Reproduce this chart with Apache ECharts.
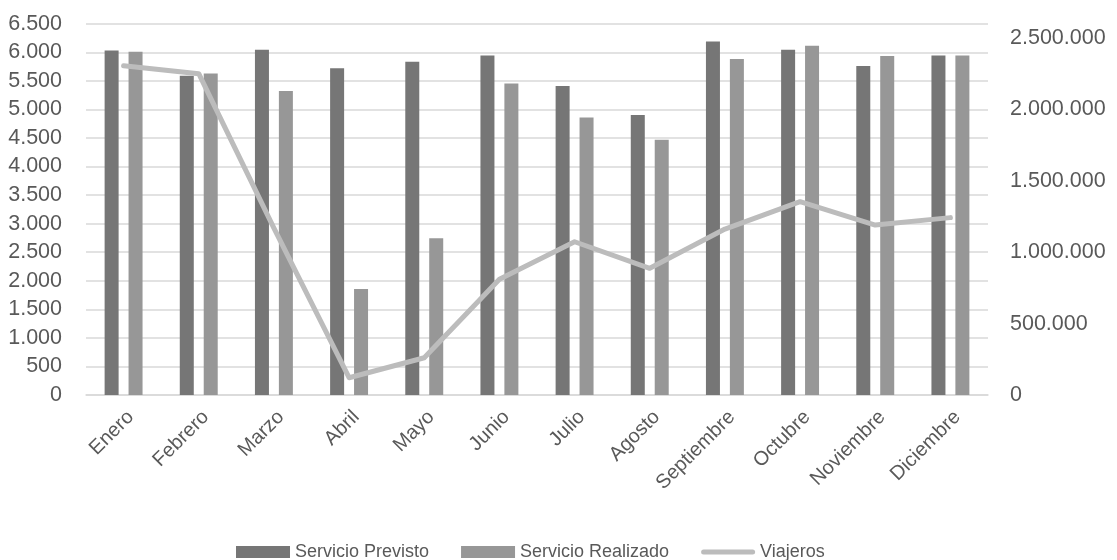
<!DOCTYPE html>
<html>
<head>
<meta charset="utf-8">
<script src="https://cdn.jsdelivr.net/npm/echarts@6/dist/echarts.min.js"></script>
<style>
  html, body { margin: 0; padding: 0; background: #ffffff; }
  #chart { width: 1117px; height: 560px; }
</style>
</head>
<body>
<div id="chart"></div>
<script>
// Monthly service figures and passenger totals
const meses = ['Enero', 'Febrero', 'Marzo', 'Abril', 'Mayo', 'Junio', 'Julio', 'Agosto', 'Septiembre', 'Octubre', 'Noviembre', 'Diciembre'];
const servicioPrevisto = [6030, 5590, 6045, 5720, 5835, 5945, 5410, 4900, 6190, 6045, 5760, 5945];
const servicioRealizado = [6010, 5630, 5320, 1855, 2745, 5455, 4860, 4470, 5880, 6115, 5935, 5945];
const viajeros = [2305000, 2250000, 1168000, 121000, 261000, 810000, 1073000, 887000, 1162000, 1354000, 1190000, 1242000];

// Spanish thousands separator
function miles(v) {
  return String(Math.round(v)).replace(/\B(?=(\d{3})+(?!\d))/g, '.');
}

const FONT = '"Liberation Sans", Arial, sans-serif';
const TEXT = '#595959';
const GRID = '#d9d9d9';
const LINE = '#bcbcbc';

const chart = echarts.init(document.getElementById('chart'), null, { renderer: 'canvas' });
chart.setOption({
  animation: false,
  backgroundColor: '#ffffff',
  textStyle: { fontFamily: FONT },
  grid: { left: 86, right: 129, top: 23.7, bottom: 165, containLabel: false },
  legend: {
    top: 538,
    left: 231,
    itemWidth: 54,
    itemHeight: 12,
    itemGap: 32,
    textStyle: { fontFamily: FONT, fontSize: 18, color: TEXT },
    data: [
      { name: 'Servicio Previsto', icon: 'rect' },
      { name: 'Servicio Realizado', icon: 'rect' },
      { name: 'Viajeros', icon: 'path://M2.5,0L51.5,0Q54,0 54,2.5Q54,5 51.5,5L2.5,5Q0,5 0,2.5Q0,0 2.5,0Z' }
    ]
  },
  xAxis: {
    type: 'category',
    data: meses,
    axisTick: { show: false },
    axisLine: { lineStyle: { color: GRID, width: 1.5 } },
    axisLabel: {
      rotate: 45,
      margin: 12,
      align: 'right',
      verticalAlign: 'top',
      fontFamily: FONT,
      fontSize: 20,
      color: TEXT,
      interval: 0
    }
  },
  yAxis: [
    {
      type: 'value',
      min: 0,
      max: 6500,
      interval: 500,
      axisLine: { show: false },
      axisTick: { show: false },
      splitLine: { lineStyle: { color: GRID, width: 1.5 } },
      axisLabel: {
        margin: 24,
        fontFamily: FONT,
        fontSize: 21.5,
        color: TEXT,
        formatter: miles
      }
    },
    {
      type: 'value',
      min: 0,
      max: 2600000,
      interval: 500000,
      position: 'right',
      axisLine: { show: false },
      axisTick: { show: false },
      splitLine: { show: false },
      axisLabel: {
        margin: 22,
        fontFamily: FONT,
        fontSize: 21.5,
        color: TEXT,
        showMaxLabel: false,
        formatter: miles
      }
    }
  ],
  series: [
    {
      name: 'Servicio Previsto',
      type: 'bar',
      data: servicioPrevisto,
      barWidth: 14,
      barGap: '71%',
      itemStyle: { color: '#767676' }
    },
    {
      name: 'Servicio Realizado',
      type: 'bar',
      data: servicioRealizado,
      barWidth: 14,
      barGap: '71%',
      itemStyle: { color: '#979797' }
    },
    {
      name: 'Viajeros',
      type: 'line',
      yAxisIndex: 1,
      data: viajeros,
      symbol: 'none',
      z: 5,
      lineStyle: { color: LINE, width: 5, cap: 'round', join: 'round' },
      itemStyle: { color: LINE }
    }
  ]
});
</script>
</body>
</html>
